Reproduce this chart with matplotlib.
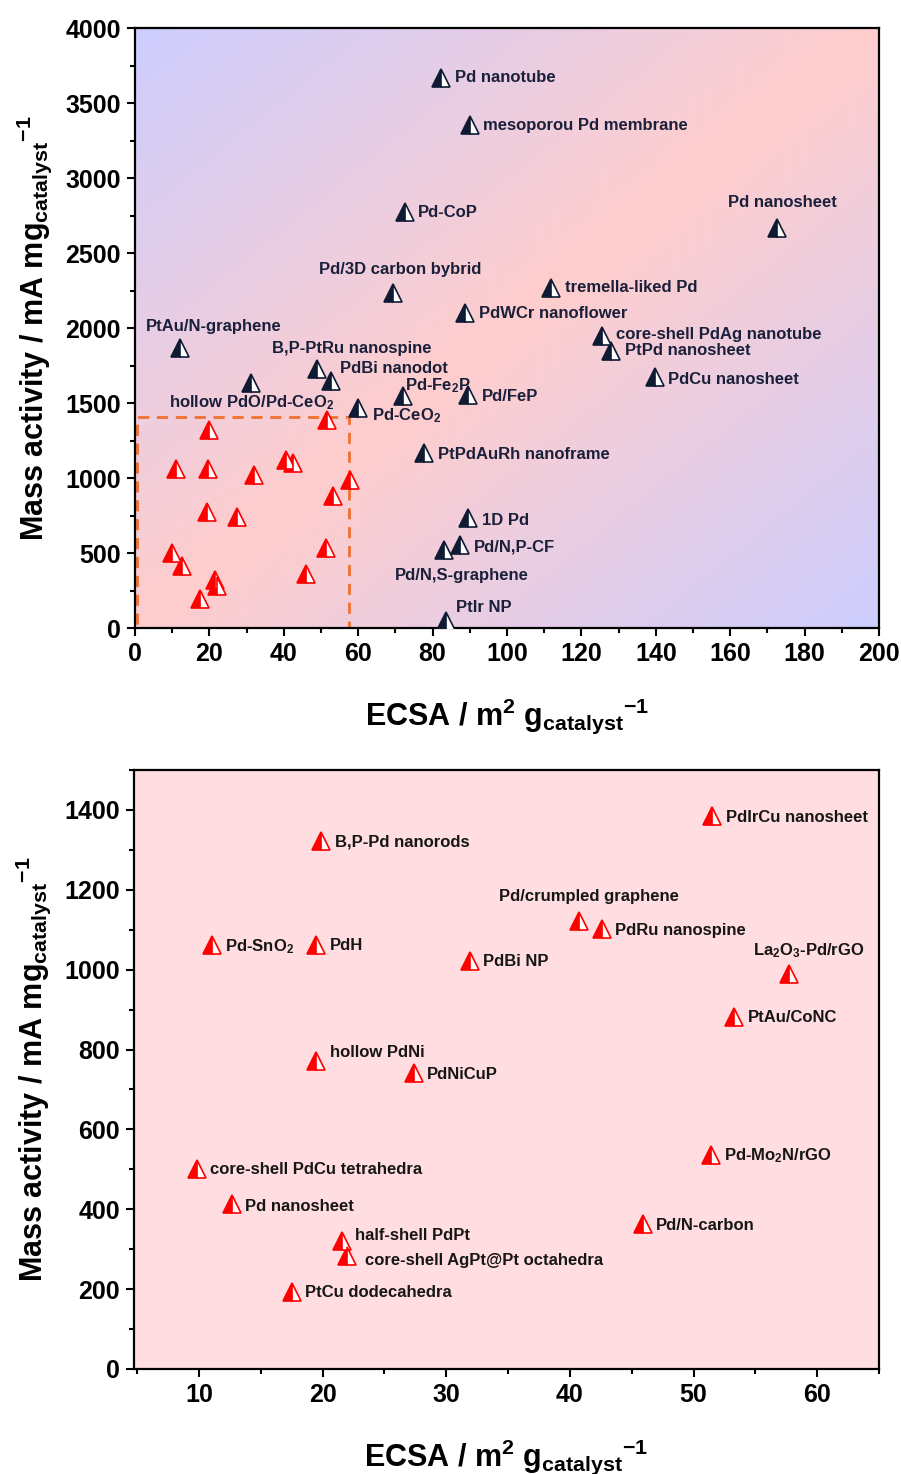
import numpy as np
import matplotlib
matplotlib.use("Agg")
import matplotlib.pyplot as plt
from matplotlib.ticker import MultipleLocator
from matplotlib.patches import Rectangle

plt.rcParams['font.family'] = ['Liberation Sans', 'DejaVu Sans']
plt.rcParams['font.weight'] = 'bold'
plt.rcParams['mathtext.fontset'] = 'custom'
plt.rcParams['mathtext.rm'] = 'Liberation Sans:bold'
plt.rcParams['mathtext.it'] = 'Liberation Sans:bold'
plt.rcParams['mathtext.bf'] = 'Liberation Sans:bold'
plt.rcParams['mathtext.sf'] = 'Liberation Sans:bold'
plt.rcParams['mathtext.default'] = 'bf'

# ---- overview catalysts (dark markers) ----
pd_names = ["Pd nanotube", "mesoporou Pd membrane", "Pd-CoP", "Pd nanosheet",
            "Pd/3D carbon bybrid", "tremella-liked Pd", "PdWCr nanoflower",
            "PtAu/N-graphene", "core-shell PdAg nanotube", "PtPd nanosheet",
            "B,P-PtRu nanospine", "PdBi nanodot", r"Pd-Fe$_2$P", "Pd/FeP",
            "PdCu nanosheet", r"hollow PdO/Pd-CeO$_2$", r"Pd-CeO$_2$",
            "PtPdAuRh nanoframe", "1D Pd", "Pd/N,P-CF", "Pd/N,S-graphene", "PtIr NP"]
pd_ecsa = [82.3, 90.1, 72.6, 172.6, 69.4, 111.8, 88.7, 12.1, 125.5, 128.0,
           48.9, 52.7, 72.0, 89.5, 139.8, 31.2, 60.0, 77.7, 89.5, 87.4, 83.1, 83.6]
pd_ma = [3667, 3353, 2773, 2667, 2233, 2267, 2100, 1867, 1947, 1847,
         1727, 1647, 1547, 1553, 1673, 1633, 1467, 1167, 733, 553, 520, 47]

# ---- low-ECSA catalysts (red markers) ----
lo_names = ["PdIrCu nanosheet", "B,P-Pd nanorods", "Pd/crumpled graphene",
            "PdRu nanospine", r"Pd-SnO$_2$", "PdH", "PdBi NP",
            r"La$_2$O$_3$-Pd/rGO", "PtAu/CoNC", "hollow PdNi", "PdNiCuP",
            r"Pd-Mo$_2$N/rGO", "core-shell PdCu tetrahedra", "Pd nanosheet",
            "Pd/N-carbon", "half-shell PdPt", "core-shell AgPt@Pt octahedra",
            "PtCu dodecahedra"]
lo_ecsa = [51.5, 19.85, 40.7, 42.6, 11.05, 19.5, 31.9, 57.7, 53.3, 19.45,
           27.4, 51.4, 9.85, 12.7, 45.9, 21.6, 22.0, 17.5]
lo_ma = [1385, 1322, 1122, 1102, 1062, 1062, 1022, 990, 882, 772,
         740, 535, 502, 412, 362, 320, 282, 192]

# label offsets in pixels (dx, dy) and horizontal alignment
pd_offsets = [(14, 0, 'left'), (13, 0, 'left'), (13, 0, 'left'), (5, 25, 'center'),
              (7, 24, 'center'), (14, 0, 'left'), (14, 0, 'left'), (34, 21, 'center'),
              (14, 1, 'left'), (14, 0, 'left'), (35, 20, 'center'), (9, 12, 'left'),
              (2, 10, 'left'), (14, -1, 'left'), (13, -2, 'left'), (1, -20, 'center'),
              (14, -8, 'left'), (14, -2, 'left'), (14, -2, 'left'), (14, -2, 'left'),
              (18, -25, 'center'), (10, 13, 'left')]
lo_offsets = [(14, -2, 'left'), (14, -1, 'left'), (10, 24, 'center'), (13, -2, 'left'),
              (13, -2, 'left'), (13, -1, 'left'), (13, -1, 'left'), (20, 23, 'center'),
              (14, -1, 'left'), (14, 8, 'left'), (13, -1, 'left'), (13, 0, 'left'),
              (13, -1, 'left'), (13, -2, 'left'), (13, -1, 'left'), (13, 6, 'left'),
              (18, -4, 'left'), (13, 0, 'left')]

NAVY = '#0f1a33'
RED = '#ff0000'
TXT_TOP = '#1a1f3a'
TXT_BOT = '#161616'

XLABEL = r'ECSA / m$^{2}$ g$_{catalyst}{}^{-1}$'
YLABEL = r'Mass activity / mA mg$_{catalyst}{}^{-1}$'

fig = plt.figure(figsize=(9.01, 14.74), dpi=100)
W, H = 901, 1474
ax1 = fig.add_axes([135 / W, 1 - 628 / H, 744 / W, 600 / H])
ax2 = fig.add_axes([134 / W, 1 - 1369 / H, 745 / W, 599 / H])


def style_axes(ax):
    for s in ax.spines.values():
        s.set_linewidth(1.6)
        s.set_color('black')
    ax.tick_params(which='major', direction='out', length=6, width=1.5,
                   labelsize=18, pad=4)
    ax.tick_params(which='minor', direction='out', length=3.5, width=1.5)
    for lab in ax.get_xticklabels() + ax.get_yticklabels():
        lab.set_fontweight('bold')


# ----- top panel: diagonal gradient background -----
n = 300
xx, yy = np.meshgrid(np.linspace(0, 1, n), np.linspace(1, 0, n))
t = np.abs(xx - yy)
pink = np.array([255, 205, 205]) / 255
blue = np.array([205, 205, 255]) / 255
img = pink[None, None, :] * (1 - t[..., None]) + blue[None, None, :] * t[..., None]
ax1.imshow(img, extent=[0, 1, 0, 1], transform=ax1.transAxes, aspect='auto',
           zorder=0, interpolation='bilinear')

ax1.set_xlim(0, 200)
ax1.set_ylim(0, 4000)
ax1.xaxis.set_major_locator(MultipleLocator(20))
ax1.xaxis.set_minor_locator(MultipleLocator(10))
ax1.yaxis.set_major_locator(MultipleLocator(500))
ax1.yaxis.set_minor_locator(MultipleLocator(250))

ax1.add_patch(Rectangle((0.5, 0), 57.0, 1410, fill=False, edgecolor='#f07030',
                        linestyle=(0, (4, 2.8)), linewidth=2.0, zorder=2))

mk = dict(marker='^', markersize=13, linestyle='none', fillstyle='left',
          markerfacecoloralt='white', markeredgewidth=1.2, zorder=4)
ax1.plot(lo_ecsa, lo_ma, color=RED, markeredgecolor=RED, **mk)
ax1.plot(pd_ecsa, pd_ma, color=NAVY, markeredgecolor=NAVY, **mk)

for name, x, y, (dx, dy, ha) in zip(pd_names, pd_ecsa, pd_ma, pd_offsets):
    ax1.annotate(name, (x, y), xytext=(dx, dy), textcoords='offset pixels',
                 ha=ha, va='center', fontsize=12, fontweight='bold',
                 color=TXT_TOP, zorder=5)

ax1.set_xlabel(XLABEL, fontsize=22, fontweight='bold', labelpad=22)
ax1.set_ylabel(YLABEL, fontsize=22, fontweight='bold', labelpad=8)
style_axes(ax1)

# ----- bottom panel: zoom on the low-ECSA catalysts -----
ax2.set_facecolor('#ffdde0')
ax2.set_xlim(4.75, 65)
ax2.set_ylim(0, 1500)
ax2.xaxis.set_major_locator(MultipleLocator(10))
ax2.xaxis.set_minor_locator(MultipleLocator(5))
ax2.yaxis.set_major_locator(MultipleLocator(200))
ax2.yaxis.set_minor_locator(MultipleLocator(100))

ax2.plot(lo_ecsa, lo_ma, color=RED, markeredgecolor=RED, **mk)
for name, x, y, (dx, dy, ha) in zip(lo_names, lo_ecsa, lo_ma, lo_offsets):
    ax2.annotate(name, (x, y), xytext=(dx, dy), textcoords='offset pixels',
                 ha=ha, va='center', fontsize=12, fontweight='bold',
                 color=TXT_BOT, zorder=5)

ax2.set_xlabel(XLABEL, fontsize=22, fontweight='bold', labelpad=22)
ax2.set_ylabel(YLABEL, fontsize=22, fontweight='bold', labelpad=8)
style_axes(ax2)

fig.savefig('out.png', dpi=100)
